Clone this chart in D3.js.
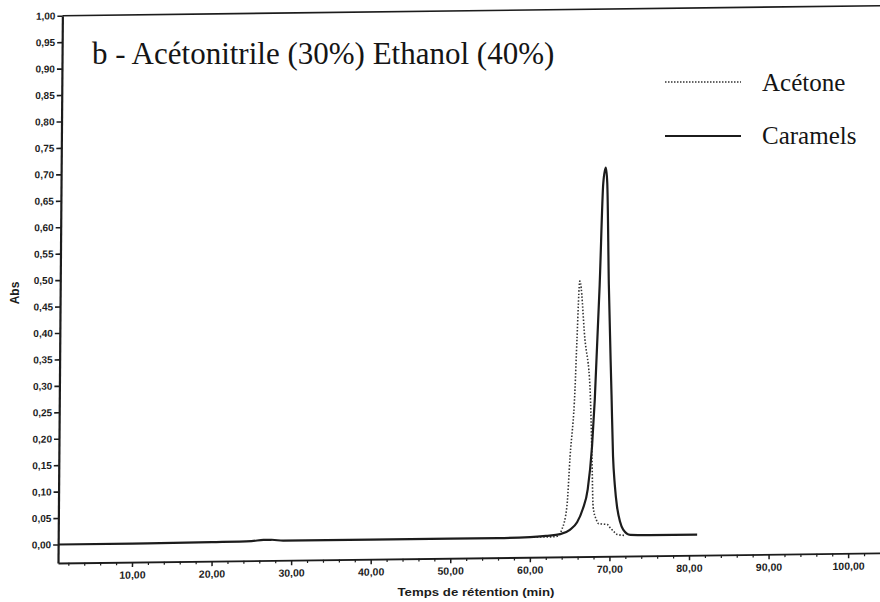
<!DOCTYPE html>
<html>
<head>
<meta charset="utf-8">
<script src="https://cdn.jsdelivr.net/npm/d3@7"></script>
<style>
  html, body { margin: 0; padding: 0; background: #fff; }
  svg { display: block; }
</style>
</head>
<body>
<script>
// ---- data ----
const caramelsTime = [0.7, 10, 20, 25, 26.5, 27.5, 29, 40, 50, 56, 60, 62, 63.8, 65, 65.9, 66.6, 67.2, 67.7, 68.0, 68.5, 68.85, 69.15, 69.35, 69.65, 70.1, 70.35, 70.6, 70.9, 71.3, 71.7, 72.6, 75, 81];
const caramelsAbs  = [0.0, 0.0, 0.001, 0.002, 0.004, 0.004, 0.002, 0.002, 0.002, 0.002, 0.003, 0.005, 0.008, 0.016, 0.03, 0.055, 0.092, 0.173, 0.262, 0.479, 0.671, 0.70, 0.671, 0.479, 0.27, 0.154, 0.10, 0.059, 0.03, 0.015, 0.005, 0.004, 0.004];
const acetoneTime = [60, 62.5, 63.4, 64.0, 64.6, 64.95, 65.5, 65.7, 66.0, 66.7, 67.4, 67.7, 67.9, 68.3, 68.6, 69.2, 69.7, 70.05, 70.5, 70.95, 72];
const acetoneAbs  = [0.003, 0.003, 0.004, 0.017, 0.06, 0.154, 0.281, 0.376, 0.486, 0.376, 0.281, 0.154, 0.059, 0.035, 0.027, 0.026, 0.025, 0.019, 0.012, 0.006, 0.004];
const seriesNames = ["Acétone", "Caramels"];
const yTicks = [0, 0.05, 0.10, 0.15, 0.20, 0.25, 0.30, 0.35, 0.40, 0.45, 0.50, 0.55, 0.60, 0.65, 0.70, 0.75, 0.80, 0.85, 0.90, 0.95, 1.00];
const xTicks = [10, 20, 30, 40, 50, 60, 70, 80, 90, 100];
const xMinorTicks = d3.range(2, 104, 2).filter(v => v % 10 !== 0);
const titleText = "b - Acétonitrile (30%) Ethanol (40%)";
const xLabel = "Temps de rétention (min)";
const yLabel = "Abs";

// ---- layout ----
const W = 880, H = 602;
const X0 = 58, YB = 563;
const ink = "#1c1c1c";
const fmt = d => d.toFixed(2).replace(".", ",");

const svg = d3.select("body").append("svg").attr("width", W).attr("height", H)
  .style("background", "#fff");

const x = d3.scaleLinear().domain([0.7, 104]).range([X0, 880]);
const y = d3.scaleLinear().domain([-0.035, 1.0]).range([YB, 15.7]);

// slight scan skew of the plot frame
const plot = svg.append("g")
  .attr("transform", `translate(${X0},${YB}) matrix(1,-0.0122,-0.008,1,0,0) translate(${-X0},${-YB})`);

// top frame line
plot.append("line")
  .attr("x1", x(0.7)).attr("x2", x(104))
  .attr("y1", y(1)).attr("y2", y(1))
  .attr("stroke", ink).attr("stroke-width", 1.6);

// y axis
const yAx = plot.append("g").attr("transform", `translate(${X0},0)`)
  .call(d3.axisLeft(y).tickValues(yTicks).tickSize(5).tickSizeOuter(0).tickPadding(2).tickFormat(fmt));
yAx.select(".domain").attr("stroke", ink).attr("stroke-width", 2.2);
yAx.selectAll(".tick line").attr("stroke", ink).attr("stroke-width", 1.6);
yAx.selectAll(".tick text").attr("font-family", "Liberation Sans, Arial, sans-serif")
  .attr("font-weight", "bold").attr("font-size", 10).attr("fill", ink);

// x axis
const xAx = plot.append("g").attr("transform", `translate(0,${YB})`)
  .call(d3.axisBottom(x).tickValues(xTicks).tickSize(5).tickSizeOuter(0).tickPadding(4).tickFormat(fmt));
xAx.select(".domain").attr("stroke", ink).attr("stroke-width", 1.8);
xAx.selectAll(".tick line").attr("stroke", ink).attr("stroke-width", 1.5);
xAx.selectAll(".tick text").attr("font-family", "Liberation Sans, Arial, sans-serif")
  .attr("font-weight", "bold").attr("font-size", 10.5).attr("fill", ink);

const xMinor = plot.append("g").attr("transform", `translate(0,${YB})`)
  .call(d3.axisBottom(x).tickValues(xMinorTicks).tickSize(3).tickSizeOuter(0).tickFormat(""));
xMinor.select(".domain").remove();
xMinor.selectAll(".tick line").attr("stroke", ink).attr("stroke-width", 1.2);

// curves
const line = d3.line().x(d => x(d[0])).y(d => y(d[1])).curve(d3.curveMonotoneX);
const caramels = caramelsTime.map((t, i) => [t, caramelsAbs[i]]);
const acetone = acetoneTime.map((t, i) => [t, acetoneAbs[i]]);

plot.append("path").datum(acetone).attr("d", line)
  .attr("fill", "none").attr("stroke", "#333").attr("stroke-width", 1.6)
  .attr("stroke-dasharray", "1.5,1.8");
plot.append("path").datum(caramels).attr("d", line)
  .attr("fill", "none").attr("stroke", ink).attr("stroke-width", 2.2)
  .attr("stroke-linejoin", "round");

// axis titles
svg.append("text").attr("x", 476).attr("y", 596).attr("text-anchor", "middle")
  .attr("font-family", "Liberation Sans, Arial, sans-serif").attr("font-weight", "bold")
  .attr("font-size", 10).attr("textLength", 157).attr("lengthAdjust", "spacingAndGlyphs")
  .attr("fill", ink).text(xLabel);
svg.append("text").attr("transform", "translate(19,293) rotate(-90)").attr("text-anchor", "middle")
  .attr("font-family", "Liberation Sans, Arial, sans-serif").attr("font-weight", "bold")
  .attr("font-size", 12).attr("fill", ink).text(yLabel);

// title
svg.append("text").attr("x", 92).attr("y", 64)
  .attr("font-family", "'Liberation Serif', 'Times New Roman', serif")
  .attr("font-size", 31).attr("fill", "#151515").text(titleText);

// legend
const legend = svg.append("g");
const legY = [82, 136];
const legTextY = [91, 144];
seriesNames.forEach((name, i) => {
  legend.append("line").attr("x1", 665).attr("x2", 741).attr("y1", legY[i]).attr("y2", legY[i])
    .attr("stroke", i === 0 ? "#333" : ink)
    .attr("stroke-width", i === 0 ? 1.3 : 2)
    .attr("stroke-dasharray", i === 0 ? "1.5,1.5" : null);
  legend.append("text").attr("x", 762).attr("y", legTextY[i])
    .attr("font-family", "'Liberation Serif', 'Times New Roman', serif")
    .attr("font-size", 25).attr("fill", "#151515").text(name);
});
</script>
</body>
</html>
